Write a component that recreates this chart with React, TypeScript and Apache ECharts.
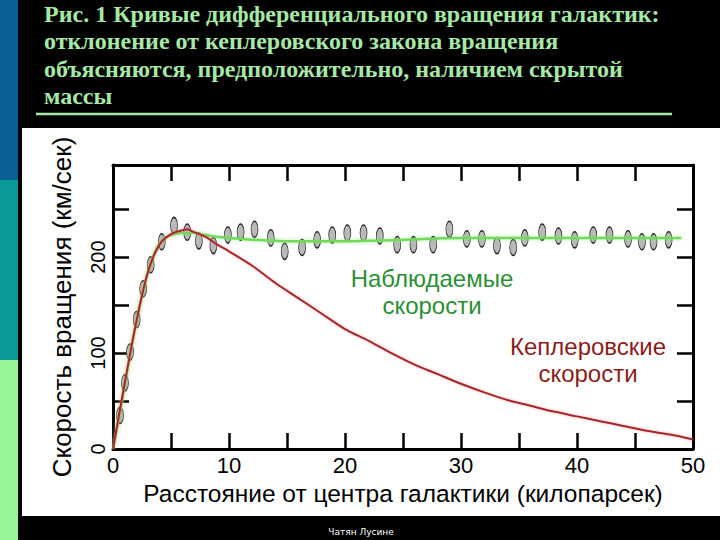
import React, { useEffect, useRef } from "react";
import * as echarts from "echarts";

const titleLines = [
  "Рис. 1 Кривые дифференциального вращения галактик:",
  "отклонение от кеплеровского закона вращения",
  "объясняются, предположительно, наличием скрытой",
  "массы",
];
const xAxisTitle = "Расстояние от центра галактики (килопарсек)";
const yAxisTitle = "Скорость вращения (км/сек)";
const observedLabel = ["Наблюдаемые", "скорости"];
const keplerLabel = ["Кеплеровские", "скорости"];
const footer = "Чатян Лусине";

const xLabelValues = [0, 10, 20, 30, 40, 50];
const yLabelValues = [0, 100, 200];

// observed rotation velocities (points)
const obsX = [0.6, 1.03, 1.47, 2.04, 2.6, 3.25, 4.2, 5.26, 6.4, 7.4, 8.65, 9.9, 11.0, 12.2, 13.6, 14.8, 16.3, 17.6, 18.9, 20.2, 21.6, 23.0, 24.5, 25.9, 27.6, 29.0, 30.5, 31.8, 33.1, 34.5, 35.5, 37.0, 38.4, 39.8, 41.4, 42.8, 44.4, 45.6, 46.6, 47.9];
const obsY = [35, 69, 101, 135, 167, 192, 216, 233, 226, 217, 212, 223, 226, 229, 220, 206, 210, 218, 223, 225, 225, 222, 213, 213, 213, 229, 219, 219, 212, 210, 220, 226, 222, 218, 223, 223, 219, 216, 216, 218];

// fitted observed curve
const fitX = [0, 0.5, 1, 1.5, 2, 2.5, 3, 3.5, 4, 4.5, 5, 6, 7, 8, 9, 10, 11, 12, 14, 16, 18, 20, 22, 24, 26, 28, 30, 34, 38, 42, 46, 49];
const fitY = [0, 32, 66, 100, 132, 160, 184, 202, 214, 220, 223, 225, 225, 223, 221, 220, 219, 218, 217, 216.5, 216.5, 216.5, 217, 217.5, 218.5, 219.5, 220, 220, 220, 220, 220, 220];

// Keplerian curve
const kepX = [0, 1, 2, 3, 4, 5, 6, 6.4, 7, 8, 9, 10, 12, 14, 16, 18, 20, 22, 24, 26, 28, 30, 32, 34, 36, 38, 40, 42, 44, 46, 48, 50];
const kepY = [0, 68, 132, 184, 213, 224, 228, 229, 226, 221, 213, 206, 191, 173, 157, 141, 125, 113, 100, 88, 78, 68, 59, 51, 45, 39, 34, 29, 24, 19, 15, 10];

const zip = (a: number[], b: number[]) => a.map((v, i) => [v, b[i]]);

export default function App() {
  const ref = useRef<HTMLDivElement>(null);
  useEffect(() => {
    document.body.style.margin = "0";
    const chart = echarts.init(ref.current!, null, { renderer: "svg" });
    const axisLine = { show: true, onZero: false, lineStyle: { color: "#000", width: 3 } };
    const tick = { show: true, inside: true, length: 16, lineStyle: { color: "#000", width: 2.5 } };
    const font = "Liberation Sans";
    chart.setOption({
      animation: false,
      backgroundColor: "#000",
      grid: { left: 113, right: 27, top: 165, bottom: 91, containLabel: false },
      xAxis: [
        {
          type: "value", min: 0, max: 50, interval: 5, position: "bottom",
          axisLine, axisTick: tick, splitLine: { show: false },
          axisLabel: {
            margin: 5, fontSize: 22, color: "#000", fontFamily: font,
            formatter: (v: number) => (xLabelValues.includes(v) ? String(v) : ""),
          },
          name: xAxisTitle, nameLocation: "middle", nameGap: 30,
          nameTextStyle: { fontSize: 24.5, color: "#000", fontFamily: font },
        },
        {
          type: "value", min: 0, max: 50, interval: 5, position: "top",
          axisLine, axisTick: tick, splitLine: { show: false }, axisLabel: { show: false },
        },
      ],
      yAxis: [
        {
          type: "value", min: 0, max: 296, interval: 50, position: "left",
          axisLine, axisTick: tick, splitLine: { show: false },
          axisLabel: {
            rotate: 90, margin: 5, fontSize: 20, color: "#000", fontFamily: font,
            formatter: (v: number) => (yLabelValues.includes(v) ? String(v) : ""),
          },
          name: yAxisTitle, nameLocation: "middle", nameRotate: 90, nameGap: 38,
          nameTextStyle: { fontSize: 26, color: "#000", fontFamily: font },
        },
        {
          type: "value", min: 0, max: 296, interval: 50, position: "right",
          axisLine, axisTick: tick, splitLine: { show: false }, axisLabel: { show: false },
        },
      ],
      series: [
        {
          type: "scatter", data: zip(obsX, obsY), symbol: "circle", symbolSize: [7, 16], z: 2,
          itemStyle: { color: "#b9b9b9", borderColor: "#222", borderWidth: 1, opacity: 1 },
        },
        {
          type: "line", data: zip(fitX, fitY), smooth: 0.4, showSymbol: false, z: 3,
          lineStyle: { color: "#72d95a", width: 2.5, shadowColor: "rgba(120,230,110,0.6)", shadowBlur: 4 },
        },
        {
          type: "line", data: zip(kepX, kepY), smooth: 0.3, showSymbol: false, z: 4,
          lineStyle: { color: "#a3262a", width: 2, shadowColor: "rgba(255,120,120,0.6)", shadowBlur: 3 },
        },
      ],
      graphic: [
        { type: "rect", z: -10, shape: { x: 22, y: 128, width: 698, height: 388 }, style: { fill: "#fff" }, silent: true },
        { type: "rect", z: -10, shape: { x: 0, y: 0, width: 18, height: 180 }, style: { fill: "#0b5f95" }, silent: true },
        { type: "rect", z: -10, shape: { x: 0, y: 180, width: 18, height: 180 }, style: { fill: "#0a9a96" }, silent: true },
        { type: "rect", z: -10, shape: { x: 0, y: 360, width: 18, height: 180 }, style: { fill: "#98f598" }, silent: true },
        { type: "line", z: -5, shape: { x1: 36, y1: 114, x2: 672, y2: 114 }, style: { stroke: "#a6e8a6", lineWidth: 2.5 }, silent: true },
        {
          type: "text", x: 44, y: 0, z: 5, silent: true,
          style: {
            text: titleLines.join("\n"), fill: "#a6e8a6",
            font: "bold 24px 'Liberation Serif'", lineHeight: 27.5,
            textAlign: "left", textVerticalAlign: "top",
          },
        },
        {
          type: "text", x: 432, y: 292, z: 5, silent: true,
          style: {
            text: observedLabel.join("\n"), fill: "#2b8f35", font: "24px 'Liberation Sans'",
            lineHeight: 27, textAlign: "center", textVerticalAlign: "middle",
          },
        },
        {
          type: "text", x: 588, y: 360, z: 5, silent: true,
          style: {
            text: keplerLabel.join("\n"), fill: "#8b1c1c", font: "24px 'Liberation Sans'",
            lineHeight: 27, textAlign: "center", textVerticalAlign: "middle",
          },
        },
        {
          type: "text", x: 361, y: 532, z: 5, silent: true,
          style: { text: footer, fill: "#fff", font: "9px 'DejaVu Sans'", textAlign: "center", textVerticalAlign: "middle" },
        },
      ],
    });
    return () => chart.dispose();
  }, []);
  return <div ref={ref} style={{ width: 720, height: 540, position: "fixed", left: 0, top: 0 }} />;
}
